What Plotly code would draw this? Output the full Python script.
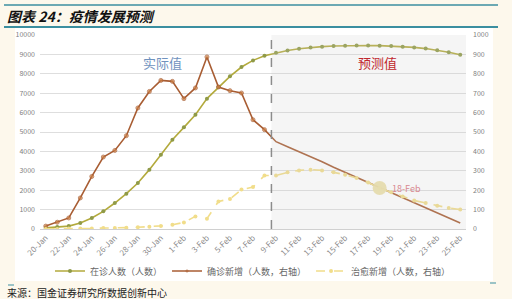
import plotly.graph_objects as go

dates = ["20-Jan", "21-Jan", "22-Jan", "23-Jan", "24-Jan", "25-Jan", "26-Jan", "27-Jan",
         "28-Jan", "29-Jan", "30-Jan", "31-Jan", "1-Feb", "2-Feb", "3-Feb", "4-Feb",
         "5-Feb", "6-Feb", "7-Feb", "8-Feb", "9-Feb", "10-Feb", "11-Feb", "12-Feb",
         "13-Feb", "14-Feb", "15-Feb", "16-Feb", "17-Feb", "18-Feb", "19-Feb", "20-Feb",
         "21-Feb", "22-Feb", "23-Feb", "24-Feb", "25-Feb"]
tick_labels = dates[::2]

# 在诊人数（左轴）
in_treatment = [60, 100, 150, 310, 570, 910, 1340, 1820, 2370, 3060, 3830, 4600, 5240,
                5890, 6720, 7320, 7870, 8350, 8690, 8930, 9080, 9200, 9290, 9350, 9400,
                9430, 9450, 9460, 9460, 9450, 9430, 9400, 9360, 9300, 9220, 9110, 8980]
# 确诊新增（右轴）
new_confirmed = [15, 35, 57, 160, 271, 371, 405, 481, 624, 709, 766, 761, 672, 727, 887,
                 732, 713, 701, 563, 512, 450, 424, 399, 372, 347, 318, 292, 265, 238,
                 211, 186, 160, 134, 108, 83, 57, 31]
# 治愈新增（右轴）
new_cured = [0, 0, 2, 3, 3, 5, 5, 7, 9, 12, 16, 22, 34, 65, 53, 142, 155, 203, 216, 276,
             276, 292, 302, 306, 302, 292, 280, 263, 240, 211, 189, 168, 147, 134, 120,
             108, 100]

forecast_start = 20  # 9-Feb
highlight = 29       # 18-Feb

# plot-area pixel geometry (for paper-coordinate decorations)
W, H = 512, 299
L, R, T, B = 40, 46, 35, 70
PW, PH = W - L - R, H - T - B
def px(x):
    return (x - L) / PW
def py(y):
    return (H - B - y) / PH

fig = go.Figure()

fig.add_trace(go.Scatter(
    x=dates, y=in_treatment, name="在诊人数（人数）", mode="lines+markers",
    line=dict(color="#b3aa3c", width=1.6),
    marker=dict(color="#8f9a48", size=4), yaxis="y"))

fig.add_trace(go.Scatter(
    x=dates, y=new_confirmed, name="确诊新增（人数，右轴）", mode="lines+markers",
    line=dict(color="#a85d33", width=1.6),
    marker=dict(color="#cf8245", size=[4 if i < forecast_start else 0 for i in range(len(dates))]),
    yaxis="y2"))

fig.add_trace(go.Scatter(
    x=dates, y=new_cured, name="治愈新增（人数，右轴）", mode="lines+markers",
    line=dict(color="#f1dd8a", width=1.6, dash="dash"),
    marker=dict(color="#f1dd8a", size=4), yaxis="y2"))

fig.add_trace(go.Scatter(
    x=[dates[highlight]], y=[new_confirmed[highlight]], mode="markers", showlegend=False,
    marker=dict(color="rgba(236,224,168,0.95)", size=14), yaxis="y2"))

shapes = []
# cream page + white chart card
shapes.append(dict(type="rect", xref="paper", yref="paper", x0=px(15), x1=px(493),
                   y0=py(281), y1=py(28), fillcolor="white", line=dict(width=0), layer="below"))
# teal title rules
for yy, w in [(5, 1.5), (27, 2)]:
    shapes.append(dict(type="line", xref="paper", yref="paper", x0=px(4), x1=px(498),
                       y0=py(yy), y1=py(yy), line=dict(color="#3b8fa0", width=w)))
# small footer marks
shapes.append(dict(type="line", xref="paper", yref="paper", x0=px(8), x1=px(14),
                   y0=py(285), y1=py(285), line=dict(color="#3b8fa0", width=1)))
shapes.append(dict(type="line", xref="paper", yref="paper", x0=px(490), x1=px(496),
                   y0=py(283), y1=py(283), line=dict(color="#3b8fa0", width=1)))
# forecast shading
shapes.append(dict(type="rect", xref="x", yref="paper", x0=forecast_start - 0.4, x1=36.5,
                   y0=0, y1=1, fillcolor="rgba(205,205,205,0.2)", line=dict(width=0), layer="above"))
# dashed divider
shapes.append(dict(type="line", xref="x", yref="paper", x0=forecast_start - 0.4,
                   x1=forecast_start - 0.4, y0=0, y1=1,
                   line=dict(color="#8c8c8c", width=1.5, dash="dash"), layer="above"))

annotations = [
    dict(text="<b><i>图表 24：疫情发展预测</i></b>", xref="paper", yref="paper",
         x=px(5), y=py(16), xanchor="left", yanchor="middle", showarrow=False,
         font=dict(size=14, color="#111111")),
    dict(text="来源：国金证券研究所数据创新中心", xref="paper", yref="paper",
         x=px(5), y=py(292), xanchor="left", yanchor="middle", showarrow=False,
         font=dict(size=10, color="#222222")),
    dict(text="实际值", xref="x", yref="y", x=10.1, y=8570, showarrow=False,
         font=dict(size=13, color="#7092be")),
    dict(text="预测值", xref="x", yref="y", x=28.8, y=8570, showarrow=False,
         font=dict(size=13, color="#c0272d")),
    dict(text=dates[highlight], xref="x", yref="y2", x=dates[highlight],
         y=new_confirmed[highlight], xanchor="left", xshift=10, showarrow=False,
         font=dict(size=9, color="#d88890")),
]

fig.update_layout(
    width=W, height=H, margin=dict(l=L, r=R, t=T, b=B),
    paper_bgcolor="#fdf8ec", plot_bgcolor="white",
    font=dict(family="Noto Sans CJK SC, Noto Sans, sans-serif", color="#808080"),
    xaxis=dict(type="category", range=[-0.5, 36.5], tickvals=tick_labels, ticktext=tick_labels,
               tickangle=-45, tickfont=dict(size=8, color="#8a8a8a"), showgrid=False,
               showline=True, linecolor="#d0d0d0", ticks="", zeroline=False),
    yaxis=dict(range=[0, 10000], dtick=1000, tickformat="d", gridcolor="#dedede",
               tickfont=dict(size=7), zeroline=False, showline=False, ticks="",
               ticklabelstandoff=4),
    yaxis2=dict(range=[0, 1000], dtick=100, tickformat="d", overlaying="y", side="right",
                showgrid=False, tickfont=dict(size=7), zeroline=False, showline=False,
                ticks="", ticklabelstandoff=6),
    legend=dict(orientation="h", x=0.5, xanchor="center", y=py(271), yanchor="middle",
                font=dict(size=9, color="#666666"), bgcolor="rgba(0,0,0,0)", itemwidth=30),
    shapes=shapes, annotations=annotations,
)

fig.write_html("out.html")
